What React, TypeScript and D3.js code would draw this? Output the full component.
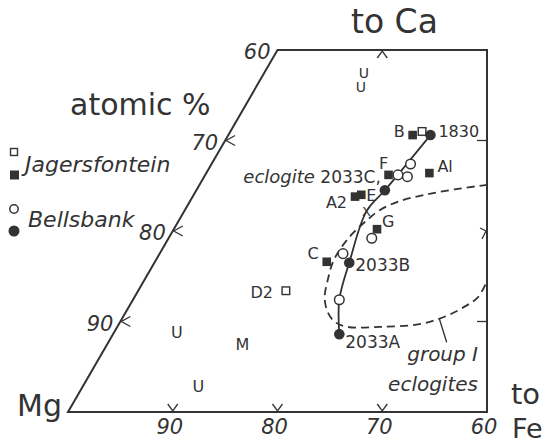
import React from "react";
import * as d3 from "d3";

const W = 547;
const H = 446;

// Compositions in atomic %: ca = Ca, fe = Fe, Mg = 100 - ca - fe
const jagersFilled = [
  { id: "B", ca: 30.6, fe: 17.6 },
  { id: "F", ca: 26.2, fe: 17.5 },
  { id: "Al", ca: 26.4, fe: 21.3 },
  { id: "A2", ca: 23.8, fe: 15.5 },
  { id: "E", ca: 24.0, fe: 16.0 },
  { id: "G", ca: 20.2, fe: 19.4 },
  { id: "C", ca: 16.6, fe: 16.4 },
];
const jagersOpen = [
  { id: "", ca: 31.0, fe: 18.3 },
  { id: "D2", ca: 13.4, fe: 14.1 },
];
const bellsFilled = [
  { id: "1830", ca: 30.6, fe: 19.3 },
  { id: "2033C", ca: 24.5, fe: 18.0 },
  { id: "2033B", ca: 16.5, fe: 18.6 },
  { id: "2033A", ca: 8.6, fe: 21.6 },
];
const bellsOpen = [
  { ca: 27.4, fe: 19.0 },
  { ca: 26.2, fe: 18.4 },
  { ca: 26.0, fe: 19.4 },
  { ca: 19.2, fe: 19.4 },
  { ca: 17.5, fe: 17.5 },
  { ca: 12.4, fe: 19.7 },
];
const crossPoint = [{ ca: 22.2, fe: 17.4 }];
const letterPoints = [
  { t: "U", ca: 37.5, fe: 9.5, small: true },
  { t: "U", ca: 35.9, fe: 10.0, small: true },
  { t: "U", ca: 8.8, fe: 6.0, small: false },
  { t: "M", ca: 7.5, fe: 12.9, small: false },
  { t: "U", ca: 2.9, fe: 11.0, small: false },
];
// Bellsbank trend (solid curve)
const trend = [
  { ca: 30.6, fe: 19.3 },
  { ca: 24.5, fe: 18.0 },
  { ca: 22.2, fe: 17.4 },
  { ca: 16.5, fe: 18.6 },
  { ca: 12.4, fe: 19.7 },
  { ca: 8.6, fe: 21.6 },
];
// group I eclogite field (dashed)
const groupI = [
  { ca: 25.1, fe: 27.5 },
  { ca: 24.6, fe: 24.6 },
  { ca: 24.0, fe: 22.1 },
  { ca: 23.3, fe: 20.0 },
  { ca: 22.3, fe: 18.6 },
  { ca: 21.1, fe: 17.9 },
  { ca: 19.7, fe: 17.3 },
  { ca: 18.1, fe: 17.0 },
  { ca: 16.6, fe: 17.0 },
  { ca: 14.6, fe: 17.5 },
  { ca: 12.6, fe: 18.2 },
  { ca: 10.9, fe: 19.4 },
  { ca: 9.9, fe: 20.6 },
  { ca: 9.4, fe: 22.0 },
  { ca: 9.4, fe: 25.1 },
  { ca: 9.7, fe: 28.7 },
  { ca: 10.6, fe: 30.8 },
  { ca: 11.7, fe: 32.1 },
  { ca: 12.7, fe: 32.8 },
  { ca: 14.1, fe: 32.8 },
];
const groupILeader = [
  { ca: 10.3, fe: 30.3 },
  { ca: 7.7, fe: 32.3 },
];
const frameCorners = [
  { ca: 0, fe: 0 },
  { ca: 40, fe: 0 },
  { ca: 40, fe: 20 },
  { ca: 0, fe: 40 },
];
const leftTicks = [70, 80, 90]; // Mg on the Mg–Ca edge
const leftLabels = [60, 70, 80, 90];
const bottomTicks = [90, 80, 70]; // Mg on the Mg–Fe edge
const bottomLabels = [90, 80, 70, 60];
const topTicksFe = [10];
const rightDashCa = [30, 10];
const rightArrowCa = [20];

const xS = d3.scaleLinear().domain([0, 40]).range([68, 487]);
const yS = d3.scaleLinear().domain([0, 40]).range([412, 50]);
const P = (d: { ca: number; fe: number }): [number, number] => [xS(d.fe + d.ca / 2), yS(d.ca)];

const labelLayout: Record<string, { dx: number; dy: number; anchor: string; size: number }> = {
  B: { dx: -8, dy: 2, anchor: "end", size: 16 },
  F: { dx: -5, dy: -6, anchor: "middle", size: 16 },
  Al: { dx: 8, dy: -1, anchor: "start", size: 16 },
  A2: { dx: -8, dy: 11, anchor: "end", size: 16 },
  E: { dx: 5, dy: 6, anchor: "start", size: 16 },
  G: { dx: 5, dy: -2, anchor: "start", size: 16 },
  C: { dx: -8, dy: -3, anchor: "end", size: 16 },
  D2: { dx: -13, dy: 7, anchor: "end", size: 16 },
  "1830": { dx: 8, dy: 2, anchor: "start", size: 16 },
  "2033B": { dx: 6, dy: 8, anchor: "start", size: 17 },
  "2033A": { dx: 6, dy: 14, anchor: "start", size: 17 },
};

const INK = "#333";
const FONT = "'DejaVu Sans', sans-serif";

export default function App() {
  const frame = d3.line<any>().x((d) => P(d)[0]).y((d) => P(d)[1])(frameCorners) + "Z";
  const trendPath = d3
    .line<any>()
    .x((d) => P(d)[0])
    .y((d) => P(d)[1])
    .curve(d3.curveCatmullRom.alpha(0.5))(trend) as string;
  const fieldPath = d3
    .line<any>()
    .x((d) => P(d)[0])
    .y((d) => P(d)[1])
    .curve(d3.curveCatmullRom.alpha(0.5))(groupI) as string;
  const leader = d3.line<any>().x((d) => P(d)[0]).y((d) => P(d)[1])(groupILeader) as string;

  const lbl = (id: string, x: number, y: number) => {
    const L = labelLayout[id];
    if (!L) return null;
    return (
      <text key={"l" + id} x={x + L.dx} y={y + L.dy} textAnchor={L.anchor as any} fontSize={L.size} fill={INK}>
        {id}
      </text>
    );
  };

  const c2033 = P(bellsFilled[1]);

  return (
    <svg width={W} height={H} style={{ position: "absolute", left: 0, top: 0, background: "#fff" }} fontFamily={FONT}>
      <rect width={W} height={H} fill="#fff" />
      {/* frame */}
      <path d={frame} fill="none" stroke={INK} strokeWidth={2} strokeLinejoin="miter" />
      {/* left ticks */}
      {leftTicks.map((m) => {
        const [x, y] = P({ ca: 100 - m, fe: 0 });
        return <path key={"lt" + m} d={`M${x + 10},${y - 5} L${x + 1},${y} L${x + 10},${y + 5}`} fill="none" stroke={INK} strokeWidth={1.3} />;
      })}
      {leftLabels.map((m) => {
        const [x, y] = P({ ca: 100 - m, fe: 0 });
        return (
          <text key={"ll" + m} x={x - 7} y={y + 9} textAnchor="end" fontSize={21} fontStyle="italic" fill={INK}>
            {m}
          </text>
        );
      })}
      {bottomTicks.map((m) => {
        const [x, y] = P({ ca: 0, fe: 100 - m });
        return <path key={"bt" + m} d={`M${x - 5},${y - 8} L${x},${y - 1} L${x + 5},${y - 8}`} fill="none" stroke={INK} strokeWidth={1.3} />;
      })}
      {bottomLabels.map((m) => {
        const [x, y] = P({ ca: 0, fe: 100 - m });
        return (
          <text key={"bl" + m} x={x - 3} y={y + 22} textAnchor="middle" fontSize={21} fontStyle="italic" fill={INK}>
            {m}
          </text>
        );
      })}
      {topTicksFe.map((f) => {
        const [x, y] = P({ ca: 40, fe: f });
        return <path key={"tt" + f} d={`M${x - 5},${y + 8} L${x},${y + 1} L${x + 5},${y + 8}`} fill="none" stroke={INK} strokeWidth={1.3} />;
      })}
      {rightDashCa.map((c) => {
        const [x, y] = P({ ca: c, fe: 40 - c / 2 });
        return <path key={"rd" + c} d={`M${x - 10},${y} L${x},${y}`} stroke={INK} strokeWidth={1.3} />;
      })}
      {rightArrowCa.map((c) => {
        const [x, y] = P({ ca: c, fe: 40 - c / 2 });
        return <path key={"ra" + c} d={`M${x - 7},${y - 3} L${x - 1},${y} L${x - 5},${y + 8}`} fill="none" stroke={INK} strokeWidth={1.3} />;
      })}

      {/* group I field */}
      <path d={fieldPath} fill="none" stroke={INK} strokeWidth={1.8} strokeDasharray="8 5" />
      <path d={leader} fill="none" stroke={INK} strokeWidth={1.3} />
      {/* Bellsbank trend */}
      <path d={trendPath} fill="none" stroke={INK} strokeWidth={1.8} />

      {/* letter symbols */}
      {letterPoints.map((d, i) => {
        const [x, y] = P(d);
        return (
          <text key={"lp" + i} x={x} y={y} dy="0.36em" textAnchor="middle" fontSize={d.small ? 14 : 16} fill={INK}>
            {d.t}
          </text>
        );
      })}
      {crossPoint.map((d, i) => {
        const [x, y] = P(d);
        return (
          <text key={"x" + i} x={x} y={y} dy="0.36em" textAnchor="middle" fontSize={13} fill={INK}>
            X
          </text>
        );
      })}

      {/* Jagersfontein */}
      {jagersOpen.map((d, i) => {
        const [x, y] = P(d);
        return (
          <g key={"jo" + i}>
            <rect x={x - 3.8} y={y - 3.8} width={7.6} height={7.6} fill="#fff" stroke={INK} strokeWidth={1.4} />
            {lbl(d.id, x, y)}
          </g>
        );
      })}
      {jagersFilled.map((d, i) => {
        const [x, y] = P(d);
        return (
          <g key={"jf" + i}>
            <rect x={x - 4.3} y={y - 4.3} width={8.6} height={8.6} fill={INK} />
            {lbl(d.id, x, y)}
          </g>
        );
      })}
      {/* Bellsbank */}
      {bellsOpen.map((d, i) => {
        const [x, y] = P(d);
        return <circle key={"bo" + i} cx={x} cy={y} r={4.8} fill="#fff" stroke={INK} strokeWidth={1.5} />;
      })}
      {bellsFilled.map((d, i) => {
        const [x, y] = P(d);
        return (
          <g key={"bf" + i}>
            <circle cx={x} cy={y} r={5.3} fill={INK} />
            {lbl(d.id, x, y)}
          </g>
        );
      })}
      <text x={c2033[0] - 4} y={c2033[1] - 7} textAnchor="end" fill={INK}>
        <tspan fontSize={18} fontStyle="italic">eclogite</tspan>
        <tspan fontSize={17}> 2033C,</tspan>
      </text>

      <text x={478} y={361} textAnchor="end" fontSize={20} fontStyle="italic" fill={INK}>group I</text>
      <text x={478} y={391} textAnchor="end" fontSize={20} fontStyle="italic" fill={INK}>eclogites</text>

      {/* big labels */}
      <text x={351} y={33} fontSize={33} fill={INK}>to Ca</text>
      <text x={70} y={115} fontSize={30} fill={INK}>atomic %</text>
      <text x={17} y={416} fontSize={30} fill={INK}>Mg</text>
      <text x={511} y={404} fontSize={29} fill={INK}>to</text>
      <text x={512} y={438} fontSize={27} fill={INK}>Fe</text>

      {/* legend */}
      <rect x={10.5} y={148.5} width={7} height={7} fill="#fff" stroke={INK} strokeWidth={1.4} />
      <rect x={10} y={170.5} width={9} height={9} fill={INK} />
      <text x={25} y={172} fontSize={22} fontStyle="italic" fill={INK}>Jagersfontein</text>
      <circle cx={14} cy={209} r={4.2} fill="#fff" stroke={INK} strokeWidth={1.5} />
      <circle cx={14} cy={231} r={5.5} fill={INK} />
      <text x={28} y={227} fontSize={22} fontStyle="italic" fill={INK}>Bellsbank</text>
    </svg>
  );
}
